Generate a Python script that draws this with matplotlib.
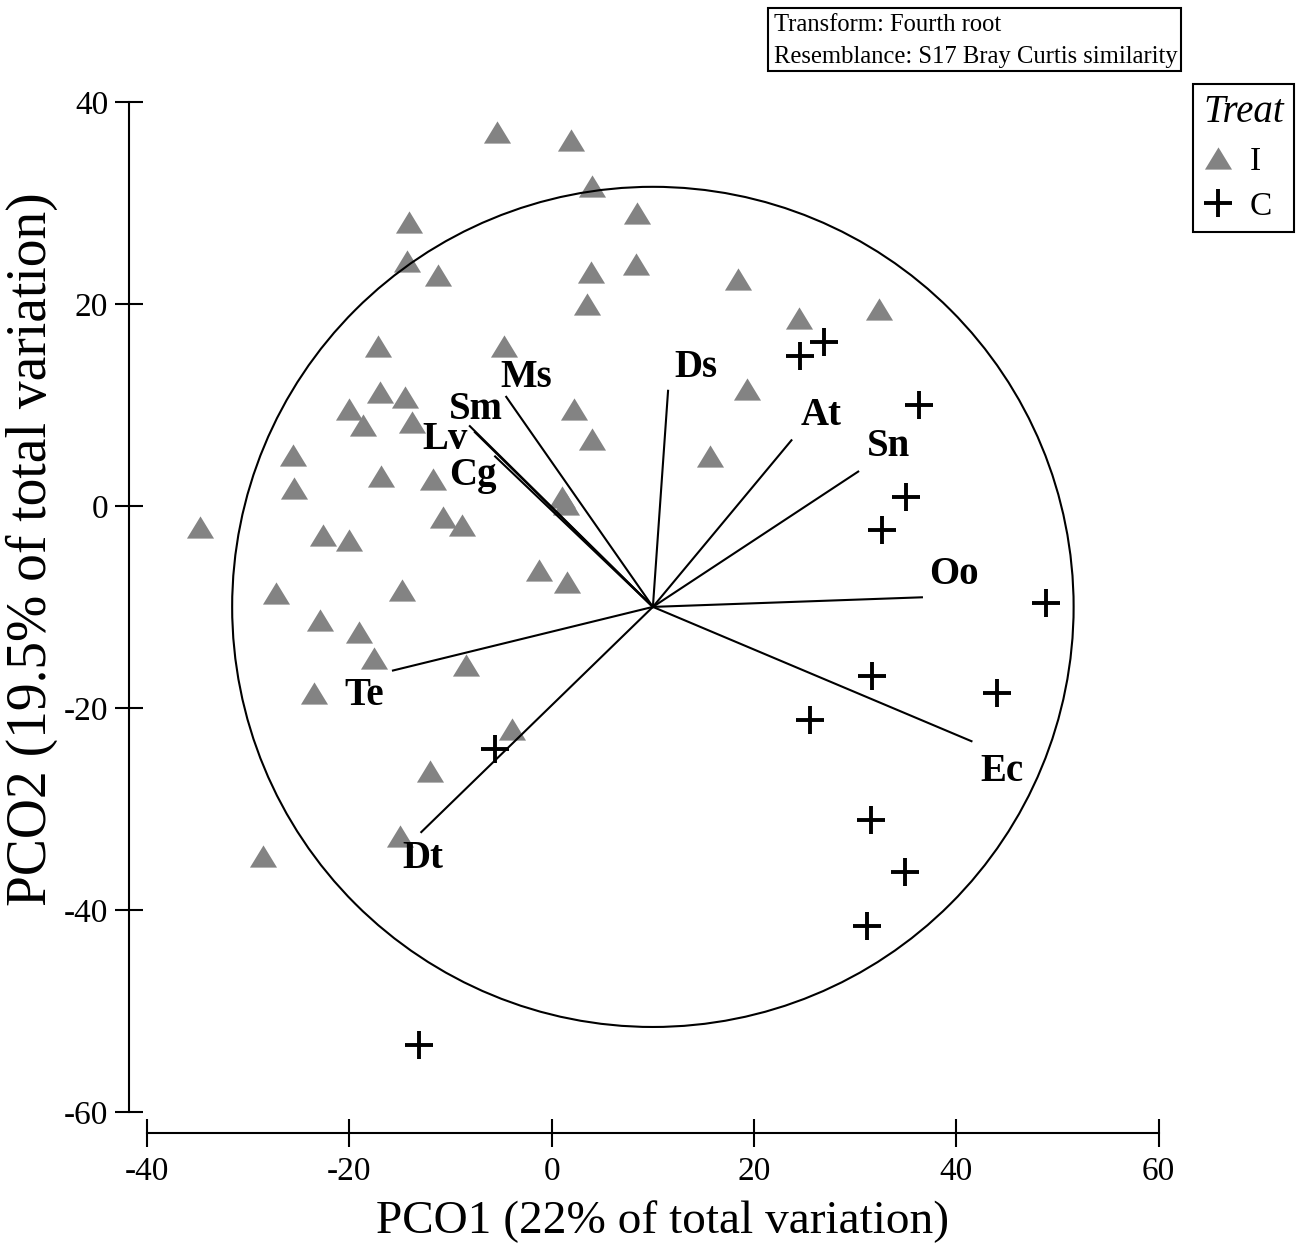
import numpy as np
import matplotlib.pyplot as plt
from matplotlib.lines import Line2D
from matplotlib.patches import Circle, Rectangle

plt.rcParams['font.family'] = ['Liberation Serif', 'DejaVu Serif']
plt.rcParams['axes.unicode_minus'] = False

# samples, treatment I (triangles)
tri_x = [-5.4, 1.95, 4.0, 8.4, -14.1, -14.3, -11.2, 3.9, 8.3, 3.5, 18.4, 24.4, 32.4,
         -17.2, -4.7, -17.0, -14.5, 19.3, -20.0, -18.7, -13.8, 2.2, 4.0, 15.6, -25.6,
         -25.5, -16.9, -11.7, 1.0, 1.4, -34.8, -22.6, -20.0, -10.75, -8.9, -1.25, 1.5,
         -27.3, -14.8, -22.9, -19.1, -17.6, -8.5, -23.5, -3.9, -12.0, -15.0, -28.6]
tri_y = [37.0, 36.2, 31.7, 29.0, 28.1, 24.3, 22.9, 23.2, 24.0, 20.0, 22.5, 18.6, 19.5,
         15.8, 15.8, 11.3, 10.8, 11.55, 9.6, 8.0, 8.3, 9.6, 6.6, 4.9, 5.0,
         1.75, 3.0, 2.7, 0.9, 0.2, -2.05, -2.9, -3.4, -1.06, -1.9, -6.3, -7.5,
         -8.65, -8.3, -11.3, -12.5, -15.1, -15.8, -18.5, -22.1, -26.3, -32.7, -34.7]

# samples, treatment C (crosses)
cross_x = [24.5, 26.9, 36.3, 35.0, 32.7, 48.9, 31.65, 44.05, 25.5, -5.6, 31.6, 34.9, 31.2, -13.1]
cross_y = [14.85, 16.2, 10.0, 0.9, -2.4, -9.6, -16.8, -18.5, -21.2, -24.1, -31.1, -36.3, -41.6, -53.4]

# species vectors (end points), all start at circle centre
vec_names = ['Ms', 'Sm', 'Lv', 'Cg', 'Ds', 'At', 'Sn', 'Oo', 'Ec', 'Te', 'Dt']
vec_x = [-4.5, -8.1, -7.6, -5.6, 11.5, 23.7, 30.3, 36.6, 41.5, -15.7, -12.9]
vec_y = [10.8, 7.9, 7.3, 4.9, 11.4, 6.5, 3.4, -9.05, -23.3, -16.3, -32.3]
cx, cy, rad = 10.0, -10.0, 41.6

# where the labels sit relative to the vector tips
lab_dx = [2.0, 0.55, -2.9, -2.2, 2.8, 2.9, 3.0, 3.2, 3.0, -2.8, 0.2]
lab_dy = [1.9, 1.6, -0.7, -1.9, 2.3, 2.5, 2.5, 2.25, -3.0, -2.5, -2.6]

xticks = [-40, -20, 0, 20, 40, 60]
yticks = [-60, -40, -20, 0, 20, 40]

fig = plt.figure(figsize=(13.04, 12.51), dpi=100)
ax = fig.add_axes([129/1304, 1-1133/1251, 1049.8/1304, 1051.2/1251])
ax.set_xlim(-41.8, 62)
ax.set_ylim(-62.1, 42)

gray = '#838383'
tri = [(0, 0.82), (-1, -0.82), (1, -0.82)]
ax.plot(tri_x, tri_y, ls='none', marker=tri, ms=19.5, color=gray, mec='none', zorder=2)
ax.plot(cross_x, cross_y, ls='none', marker='+', ms=20, mew=2.8, color='black', zorder=3)

ax.add_patch(Circle((cx, cy), rad, fill=False, ec='black', lw=1.5, zorder=4))
for i in range(len(vec_names)):
    ax.plot([cx, vec_x[i]], [cy, vec_y[i]], color='black', lw=1.5, zorder=4)
    ax.text(vec_x[i]+lab_dx[i], vec_y[i]+lab_dy[i], vec_names[i], fontsize=28,
            fontweight='bold', ha='center', va='center', zorder=5)

for s in ['top', 'right']:
    ax.spines[s].set_visible(False)
ax.spines['left'].set_bounds(-60, 40)
ax.spines['bottom'].set_bounds(-40, 60)
for s in ['left', 'bottom']:
    ax.spines[s].set_linewidth(1.5)
ax.set_xticks(xticks)
ax.set_yticks(yticks)
ax.tick_params(direction='inout', length=20, width=1.5, labelsize=24)
ax.tick_params(axis='x', pad=7)
ax.tick_params(axis='y', pad=5)

ax.set_xlabel('PCO1 (22% of total variation)', fontsize=34)
ax.xaxis.set_label_coords(0.508, -0.064)
ax.set_ylabel('PCO2 (19.5% of total variation)', fontsize=40)
ax.yaxis.set_label_coords(-0.068, 0.555)

# info box top right
fig.patches.append(Rectangle((768/1304, 1-71/1251), 413/1304, 63/1251, fill=False,
                             ec='black', lw=1.5, transform=fig.transFigure, figure=fig))
fig.text(774/1304, 1-31/1251, 'Transform: Fourth root', fontsize=17.7, va='baseline')
fig.text(774/1304, 1-63/1251, 'Resemblance: S17 Bray Curtis similarity', fontsize=17.7, va='baseline')

handles = [Line2D([], [], ls='none', marker=tri, ms=19.5, color=gray, mec='none'),
           Line2D([], [], ls='none', marker='+', ms=20, mew=2.8, color='black')]
leg = fig.legend(handles, ['I', 'C'], title='Treat', loc='upper left',
                 bbox_to_anchor=(1193/1304, 1-84/1251), bbox_transform=fig.transFigure,
                 fancybox=False, edgecolor='black', framealpha=1, fontsize=24,
                 title_fontproperties={'style': 'italic', 'size': 28},
                 handlelength=0.9, handletextpad=0.5, borderpad=0.3,
                 labelspacing=0.45, borderaxespad=0)
leg._legend_box.align = 'left'
leg.get_frame().set_linewidth(1.5)

fig.savefig('out.png', dpi=100)
